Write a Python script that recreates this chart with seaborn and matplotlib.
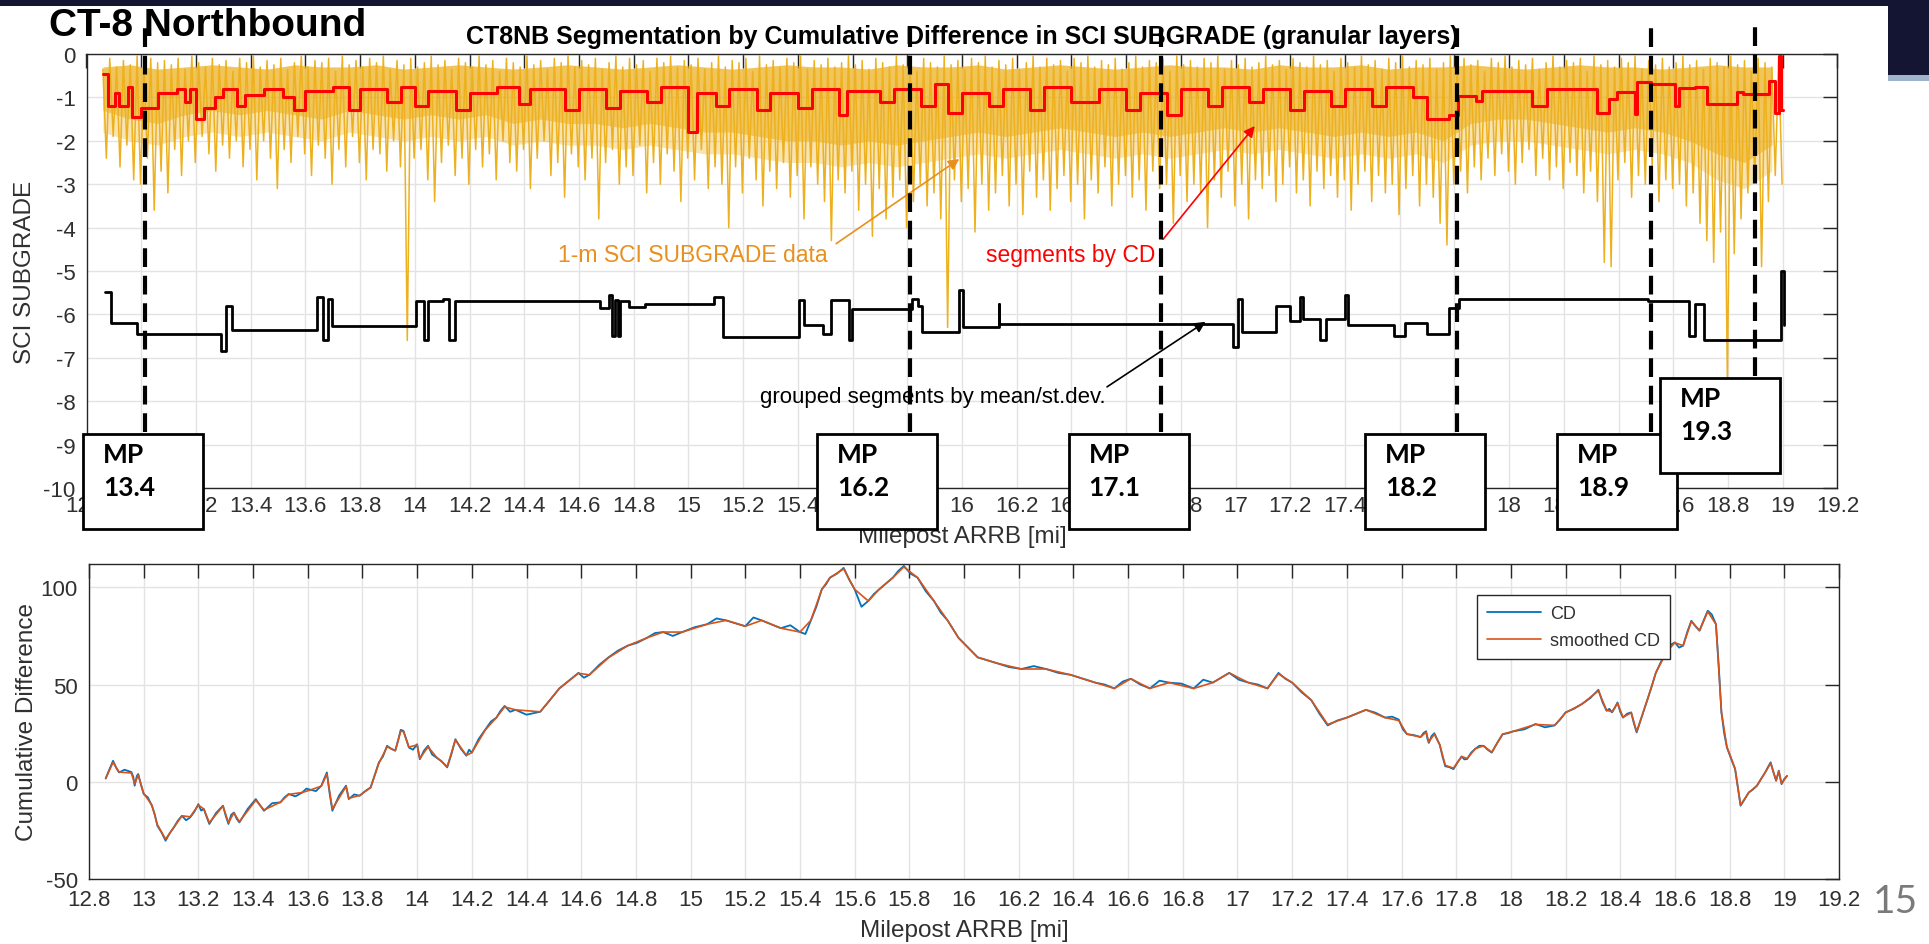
import numpy as np
import pandas as pd
import matplotlib
matplotlib.use("Agg")
import matplotlib.pyplot as plt
import matplotlib.transforms as mtransforms
from matplotlib.patches import Rectangle
import seaborn as sns

# ---------------- data ----------------
# 1-m SCI SUBGRADE data, read as alternating upper / lower spike values per 0.025 mi
sci_start = 12.86
sci_step = 0.025
sci_trough = [
    -2.4, -1.9, -2.6, -2.1, -2.9, -3.0, -2.4, -3.6, -2.7, -3.2,
    -2.2, -2.8, -2.0, -2.5, -1.9, -2.3, -2.7, -2.1, -2.4, -2.0,
    -2.6, -2.2, -2.9, -2.0, -2.4, -3.1, -2.2, -2.5, -1.9, -2.3,
    -2.8, -2.1, -2.4, -3.0, -2.2, -2.6, -1.9, -2.5, -2.9, -2.2,
    -2.3, -2.7, -2.0, -2.6, -6.6, -2.4, -2.2, -2.9, -3.4, -2.5,
    -2.1, -2.8, -2.4, -3.0, -2.2, -2.6, -2.3, -2.9, -2.0, -2.5,
    -2.7, -2.2, -3.1, -2.4, -2.0, -2.8, -2.5, -3.3, -2.3, -2.6,
    -2.9, -2.4, -3.8, -2.5, -2.2, -3.0, -2.6, -2.8, -2.1, -3.2,
    -2.5, -3.0, -2.3, -2.7, -3.4, -2.4, -2.9, -2.2, -3.1, -2.6,
    -3.0, -4.0, -2.6, -3.2, -2.4, -2.9, -3.5, -2.7, -3.1, -2.5,
    -3.3, -2.8, -3.8, -2.6, -3.0, -3.4, -4.3, -2.9, -3.2, -2.7,
    -3.6, -3.0, -4.2, -3.1, -3.8, -3.3, -2.9, -4.0, -3.4, -3.0,
    -3.5, -3.2, -3.8, -6.3, -2.9, -3.4, -3.1, -4.1, -3.0, -3.6,
    -3.2, -2.8, -3.5, -3.0, -3.7, -2.7, -3.3, -2.9, -3.6, -3.1,
    -2.8, -3.4, -3.0, -3.8, -2.9, -3.2, -2.6, -3.5, -3.0, -2.8,
    -3.3, -2.9, -3.6, -2.7, -3.1, -3.0, -3.9, -2.8, -3.4, -3.0,
    -3.2, -4.0, -2.9, -3.3, -2.7, -3.5, -3.0, -3.8, -2.9, -3.1,
    -2.8, -3.4, -3.0, -2.6, -3.2, -2.9, -3.5, -2.7, -3.1, -2.8,
    -3.3, -2.9, -3.6, -3.0, -2.7, -3.4, -2.8, -3.2, -3.0, -3.7,
    -3.1, -2.8, -3.5, -3.0, -3.3, -3.9, -4.4, -3.0, -2.7, -3.2,
    -2.6, -2.9, -2.4, -2.8, -2.3, -2.7, -3.0, -2.5, -2.2, -2.8,
    -2.4, -2.9, -2.6, -3.1, -2.5, -2.8, -3.2, -2.7, -3.4, -4.8,
    -4.9, -2.9, -2.5, -3.3, -2.8, -3.0, -2.6, -3.4, -2.9, -3.1,
    -3.0, -3.5, -3.2, -3.9, -4.3, -4.8, -4.1, -7.6, -4.6, -3.8,
    -3.2, -2.9, -4.9, -3.4, -2.8, -3.0,
]
sci_peak = [
    -0.35, -0.10, -0.30, -0.15, -0.25, -0.05, -0.30, -0.10, -0.20, -0.15,
    -0.25, -0.10, -0.35, -0.05, -0.20, -0.30, -0.10, -0.25, -0.15, -0.40,
    -0.10, -0.20, -0.05, -0.30, -0.15, -0.25, -0.10, -0.35, -0.20, -0.05,
    -0.30, -0.15, -0.20, -0.10, -0.40, -0.05, -0.25, -0.15, -0.30, -0.10,
    -0.20, -0.05, -0.35, -0.15, -0.25, -0.10, -0.30, -0.20, -0.05, -0.25,
    -0.15, -0.35, -0.10, -0.20, -0.30, -0.05, -0.25, -0.15, -0.40, -0.10,
    -0.20, -0.30, -0.05, -0.25, -0.15, -0.35, -0.10, -0.20, -0.05, -0.30,
    -0.15, -0.25, -0.10, -0.35, -0.20, -0.05, -0.30, -0.10, -0.25, -0.15,
    -0.40, -0.10, -0.20, -0.05, -0.30, -0.15, -0.25, -0.10, -0.35, -0.20,
    -0.05, -0.30, -0.15, -0.20, -0.10, -0.40, -0.05, -0.25, -0.15, -0.30,
    -0.10, -0.20, -0.05, -0.35, -0.15, -0.25, -0.10, -0.30, -0.20, -0.05,
    -0.25, -0.15, -0.35, -0.10, -0.20, -0.30, -0.05, -0.25, -0.15, -0.40,
    -0.10, -0.20, -0.30, -0.05, -0.25, -0.15, -0.35, -0.10, -0.20, -0.05,
    -0.30, -0.15, -0.25, -0.10, -0.35, -0.20, -0.05, -0.30, -0.10, -0.25,
    -0.15, -0.40, -0.10, -0.20, -0.05, -0.30, -0.15, -0.25, -0.10, -0.35,
    -0.20, -0.05, -0.30, -0.15, -0.20, -0.10, -0.40, -0.05, -0.25, -0.15,
    -0.30, -0.10, -0.20, -0.05, -0.35, -0.15, -0.25, -0.10, -0.30, -0.20,
    -0.05, -0.25, -0.15, -0.35, -0.10, -0.20, -0.30, -0.05, -0.25, -0.15,
    -0.40, -0.10, -0.20, -0.30, -0.05, -0.25, -0.15, -0.35, -0.10, -0.20,
    -0.05, -0.30, -0.15, -0.25, -0.10, -0.35, -0.20, -0.05, -0.30, -0.10,
    -0.25, -0.15, -0.40, -0.10, -0.20, -0.05, -0.30, -0.15, -0.25, -0.10,
    -0.35, -0.20, -0.05, -0.30, -0.15, -0.20, -0.10, -0.40, -0.05, -0.25,
    -0.15, -0.30, -0.10, -0.20, -0.05, -0.35, -0.15, -0.25, -0.10, -0.30,
    -0.20, -0.05, -0.25, -0.15, -0.35, -0.10, -0.20, -0.30, -0.05, -0.25,
    -0.15, -0.40, -0.10, -0.20, -0.30, -0.05,
]
# dense core of the 1-m data (every 0.1 mi): upper edge, solid-band lower edge, faint lower edge
sci_core_start = 12.86
sci_core_step = 0.1
sci_core_high = [
    -0.30, -0.25, -0.35, -0.30, -0.25, -0.30, -0.35, -0.25, -0.30, -0.30,
    -0.25, -0.35, -0.30, -0.25, -0.30, -0.35, -0.30, -0.25, -0.30, -0.35,
    -0.30, -0.25, -0.30, -0.35, -0.30, -0.25, -0.30, -0.30, -0.35, -0.25,
    -0.30, -0.30, -0.25, -0.35, -0.30, -0.25, -0.30, -0.35, -0.30, -0.25,
    -0.30, -0.30, -0.35, -0.25, -0.30, -0.30, -0.25, -0.35, -0.30, -0.30,
    -0.25, -0.30, -0.35, -0.30, -0.25, -0.30, -0.30, -0.35, -0.30, -0.25,
    -0.30, -0.30,
]
sci_core_mid = [
    -1.3, -1.5, -1.6, -1.4, -1.3, -1.4,
    -1.3, -1.4, -1.5, -1.3, -1.4, -1.5,
    -1.4, -1.5, -1.4, -1.6, -1.5, -1.6,
    -1.6, -1.7, -1.6, -1.7, -1.8,
    -1.8, -1.9, -2.0, -2.0, -2.1, -2.0, -2.1, -2.0, -1.9,
    -1.8, -1.9, -1.8, -1.7, -1.8, -1.9, -1.8, -1.9, -1.8, -1.7,
    -1.8, -1.7, -1.8, -1.9, -1.8, -1.9, -1.8, -2.0, -1.6, -1.5,
    -1.5, -1.6, -1.7, -1.8, -1.7, -1.8, -2.0, -2.3, -2.5, -2.1,
]
sci_core_low = [
    -1.8, -2.0, -2.1, -1.9, -1.8, -1.9,
    -1.8, -1.9, -2.0, -1.8, -1.9, -2.0,
    -1.9, -2.0, -1.9, -2.1, -2.0, -2.1,
    -2.1, -2.2, -2.1, -2.2, -2.3,
    -2.3, -2.4, -2.5, -2.5, -2.6, -2.5, -2.6, -2.5, -2.4,
    -2.3, -2.4, -2.3, -2.2, -2.3, -2.4, -2.3, -2.4, -2.3, -2.2,
    -2.3, -2.2, -2.3, -2.4, -2.3, -2.4, -2.3, -2.5, -2.1, -2.0,
    -2.0, -2.1, -2.2, -2.3, -2.2, -2.3, -2.5, -2.9, -3.1, -2.7,
]

# segments by CD (red step function): start milepost and value
seg_cd_mile = [12.86, 12.88, 12.905, 12.92, 12.95, 12.965, 13.0, 13.06, 13.13, 13.16,
               13.18, 13.20, 13.23, 13.27, 13.30, 13.35, 13.38, 13.45, 13.52, 13.56,
               13.60, 13.70, 13.76, 13.80, 13.90, 13.95, 14.00, 14.05, 14.15, 14.20,
               14.30, 14.38, 14.42, 14.55, 14.60, 14.70, 14.75, 14.85, 14.90, 15.00,
               15.03, 15.10, 15.15, 15.25, 15.30, 15.40, 15.45, 15.55, 15.58, 15.70,
               15.75, 15.85, 15.90, 15.95, 16.00, 16.10, 16.15, 16.25, 16.30, 16.40,
               16.50, 16.60, 16.65, 16.75, 16.80, 16.90, 16.95, 17.05, 17.10, 17.20,
               17.25, 17.35, 17.40, 17.50, 17.55, 17.65, 17.70, 17.78, 17.814, 17.88,
               17.902, 18.085, 18.137, 18.32, 18.364, 18.393, 18.459, 18.466, 18.518, 18.606,
               18.62, 18.679, 18.723, 18.832, 18.854, 18.95, 18.971, 18.986, 18.993, 19.0]
seg_cd_val = [-0.45, -1.2, -0.9, -1.2, -0.75, -1.45, -1.25, -0.9, -0.8, -1.1,
              -0.8, -1.5, -1.25, -1.0, -0.8, -1.2, -0.95, -0.8, -1.0, -1.3,
              -0.85, -0.75, -1.3, -0.8, -1.1, -0.75, -1.2, -0.85, -1.3, -0.9,
              -0.75, -1.15, -0.8, -1.3, -0.8, -1.25, -0.85, -1.1, -0.75, -1.8,
              -0.9, -1.2, -0.8, -1.3, -0.9, -1.25, -0.8, -1.4, -0.85, -1.1,
              -0.8, -1.2, -0.7, -1.35, -0.9, -1.2, -0.8, -1.3, -0.75, -1.1,
              -0.8, -1.3, -0.9, -1.4, -0.8, -1.2, -0.75, -1.1, -0.8, -1.3,
              -0.85, -1.2, -0.8, -1.2, -0.75, -1.0, -1.5, -1.4, -0.96, -1.08,
              -0.85, -1.19, -0.8, -1.35, -1.04, -0.88, -1.38, -0.65, -0.7, -1.19,
              -0.79, -0.76, -1.15, -0.88, -0.92, -0.62, -1.35, -0.04, -1.3, -1.3]

# grouped segments by mean/st.dev. (black step function)
grp_mile = [12.866, 12.889, 12.983, 13.293, 13.31, 13.33, 13.644, 13.666, 13.682, 13.698,
            14.004, 14.035, 14.049, 14.103, 14.125, 14.148, 14.677, 14.709, 14.72, 14.73,
            14.742, 14.75, 14.783, 14.84, 15.093, 15.126, 15.403, 15.424, 15.493, 15.522,
            15.587, 15.599, 15.819, 15.838, 15.852, 15.99, 16.002, 16.134, 16.137, 16.99,
            17.01, 17.023, 17.149, 17.2, 17.235, 17.245, 17.31, 17.33, 17.40, 17.41,
            17.58, 17.62, 17.70, 17.78, 17.816, 18.509, 18.657, 18.68, 18.711, 18.994,
            19.003]
grp_val = [-5.49, -6.2, -6.45, -6.85, -5.8, -6.35, -5.6, -6.6, -5.65, -6.27,
           -5.7, -6.6, -5.7, -5.65, -6.6, -5.7, -5.85, -5.56, -6.5, -5.66,
           -6.5, -5.7, -5.83, -5.77, -5.6, -6.52, -5.66, -6.25, -6.45, -5.66,
           -6.6, -5.87, -5.64, -5.8, -6.4, -5.43, -6.29, -5.75, -6.22, -6.75,
           -5.64, -6.4, -5.8, -6.15, -5.6, -6.1, -6.6, -6.1, -5.55, -6.25,
           -6.5, -6.2, -6.45, -5.85, -5.64, -5.7, -6.5, -5.75, -6.6, -5.0,
           -6.25]

# Cumulative difference (bottom panel): raw CD (dense) and smoothed CD
cd_mile = [12.861, 12.875, 12.888, 12.90, 12.91, 12.93, 12.955, 12.962, 12.967, 12.975,
           12.98, 12.99, 13.0, 13.015, 13.03, 13.04, 13.05, 13.065, 13.08, 13.095,
           13.11, 13.125, 13.14, 13.155, 13.17, 13.185, 13.2, 13.21, 13.22, 13.23,
           13.24, 13.265, 13.29, 13.30, 13.31, 13.32, 13.33, 13.34, 13.35, 13.38,
           13.41, 13.425, 13.44, 13.47, 13.5, 13.515, 13.53, 13.555, 13.58, 13.595,
           13.61, 13.63, 13.65, 13.66, 13.67, 13.68, 13.69, 13.715, 13.74, 13.745,
           13.75, 13.77, 13.79, 13.81, 13.83, 13.845, 13.86, 13.875, 13.89, 13.905,
           13.92, 13.93, 13.94, 13.95, 13.96, 13.97, 13.985, 14.0, 14.005, 14.01,
           14.025, 14.04, 14.055, 14.07, 14.09, 14.11, 14.125, 14.14, 14.16, 14.18,
           14.19, 14.2, 14.225, 14.25, 14.27, 14.29, 14.305, 14.32, 14.34, 14.36,
           14.40, 14.45, 14.48, 14.52, 14.555, 14.59, 14.61, 14.63, 14.665, 14.70,
           14.735, 14.77, 14.805, 14.84, 14.87, 14.90, 14.935, 14.97, 15.015, 15.06,
           15.095, 15.13, 15.165, 15.20, 15.23, 15.26, 15.295, 15.33, 15.365, 15.40,
           15.42, 15.44, 15.46, 15.48, 15.495, 15.51, 15.535, 15.56, 15.58, 15.60,
           15.625, 15.65, 15.67, 15.69, 15.715, 15.74, 15.76, 15.78, 15.805, 15.83,
           15.86, 15.89, 15.915, 15.94, 15.96, 15.98, 16.015, 16.05, 16.085, 16.12,
           16.165, 16.21, 16.255, 16.30, 16.345, 16.39, 16.435, 16.48, 16.515, 16.55,
           16.58, 16.61, 16.645, 16.68, 16.715, 16.75, 16.795, 16.84, 16.875, 16.91,
           16.94, 16.97, 17.005, 17.04, 17.075, 17.11, 17.13, 17.15, 17.175, 17.20,
           17.235, 17.27, 17.30, 17.33, 17.365, 17.40, 17.435, 17.47, 17.505, 17.54,
           17.565, 17.59, 17.605, 17.62, 17.645, 17.67, 17.68, 17.69, 17.695, 17.70,
           17.71, 17.72, 17.73, 17.74, 17.75, 17.76, 17.775, 17.79, 17.805, 17.82,
           17.83, 17.84, 17.855, 17.87, 17.885, 17.90, 17.915, 17.93, 17.95, 17.97,
           17.99, 18.01, 18.05, 18.09, 18.125, 18.16, 18.18, 18.20, 18.23, 18.26,
           18.29, 18.32, 18.335, 18.35, 18.36, 18.37, 18.38, 18.39, 18.40, 18.41,
           18.425, 18.44, 18.45, 18.46, 18.48, 18.50, 18.515, 18.53, 18.55, 18.57,
           18.585, 18.60, 18.615, 18.63, 18.645, 18.66, 18.675, 18.69, 18.705, 18.72,
           18.735, 18.75, 18.76, 18.77, 18.78, 18.79, 18.805, 18.82, 18.83, 18.84,
           18.855, 18.87, 18.885, 18.90, 18.915, 18.93, 18.94, 18.95, 18.96, 18.97,
           18.975, 18.98, 18.985, 18.99, 19.0, 19.01]
cd_val = [1.7, 6.5, 10.8, 7.0, 4.8, 6.2, 5.0, 2.5, -2.0, 3.0,
          4.0, -1.5, -6.3, -8.0, -12.3, -16.5, -22.6, -26.0, -30.3, -26.5,
          -23.5, -20.0, -17.5, -19.8, -18.3, -15.5, -11.5, -14.8, -14.0, -18.0,
          -21.7, -16.0, -12.3, -17.5, -21.7, -17.0, -15.8, -19.0, -20.9, -14.0,
          -8.9, -12.0, -14.9, -11.0, -10.6, -8.0, -6.3, -7.5, -5.5, -3.5,
          -4.1, -4.8, -2.0, 1.5, 4.8, -6.0, -14.9, -7.0, -2.0, -5.5,
          -8.9, -6.5, -7.2, -4.8, -2.9, 3.5, 9.9, 13.0, 18.5, 17.0,
          16.0, 21.0, 26.7, 26.2, 22.0, 17.6, 16.5, 19.3, 15.0, 11.6,
          16.0, 18.5, 14.0, 12.5, 10.5, 7.4, 14.0, 21.9, 17.0, 13.4,
          16.5, 15.0, 22.0, 27.0, 31.0, 33.0, 36.5, 39.0, 36.0, 37.0,
          34.5, 36.0, 41.0, 48.0, 52.0, 56.0, 53.5, 55.0, 60.0, 64.0,
          67.5, 70.0, 71.5, 74.0, 76.5, 77.0, 75.0, 77.0, 79.5, 81.0,
          84.0, 83.0, 81.5, 80.0, 84.5, 83.0, 81.0, 79.0, 80.5, 77.0,
          76.0, 83.0, 90.0, 99.0, 101.5, 105.0, 107.0, 110.0, 104.0, 99.0,
          90.0, 93.0, 96.5, 99.0, 102.0, 105.0, 108.5, 111.0, 107.0, 105.0,
          98.0, 93.0, 87.0, 83.0, 78.5, 74.0, 69.0, 64.0, 62.5, 61.0,
          59.0, 58.0, 59.5, 58.0, 56.0, 55.0, 53.0, 51.0, 50.0, 48.0,
          51.5, 53.0, 50.0, 48.0, 52.0, 51.0, 50.5, 48.0, 52.5, 51.0,
          53.5, 56.0, 52.5, 51.0, 50.0, 48.0, 52.0, 56.0, 53.0, 51.0,
          46.0, 42.0, 35.0, 29.0, 31.5, 33.0, 35.0, 37.0, 35.5, 33.0,
          33.5, 32.0, 27.0, 24.5, 24.0, 23.0, 25.0, 26.0, 22.0, 20.0,
          23.5, 25.0, 22.0, 19.0, 13.0, 8.0, 7.5, 6.5, 10.0, 13.0,
          11.5, 11.7, 15.0, 17.0, 18.5, 18.5, 16.5, 15.0, 20.0, 24.5,
          25.0, 26.0, 27.0, 29.7, 28.0, 29.0, 32.0, 35.7, 37.5, 40.0,
          43.0, 47.3, 41.0, 36.5, 37.5, 35.7, 38.0, 40.8, 36.0, 33.0,
          35.0, 35.7, 30.0, 25.4, 34.0, 42.5, 49.0, 56.0, 62.0, 67.4,
          70.5, 71.7, 69.0, 70.0, 77.0, 82.8, 80.0, 77.7, 83.0, 88.0,
          86.0, 81.0, 60.0, 35.7, 25.0, 17.7, 12.0, 6.5, -3.0, -12.3,
          -9.0, -5.5, -4.0, -2.0, 1.5, 4.8, 7.5, 10.0, 5.0, 0.5,
          3.0, 5.7, 2.0, -1.2, 1.5, 3.0]
smooth_mile = [12.861, 12.888, 12.91, 12.955, 12.967, 12.98, 13.0, 13.03, 13.05, 13.08,
               13.11, 13.14, 13.17, 13.2, 13.22, 13.24, 13.29, 13.31, 13.33, 13.35,
               13.41, 13.44, 13.5, 13.53, 13.58, 13.61, 13.65, 13.67, 13.69, 13.74,
               13.75, 13.79, 13.83, 13.86, 13.89, 13.92, 13.94, 13.95, 13.97, 14.0,
               14.01, 14.04, 14.07, 14.11, 14.14, 14.18, 14.2, 14.25, 14.29, 14.32,
               14.36, 14.45, 14.52, 14.59, 14.63, 14.70, 14.77, 14.84, 14.90, 14.97,
               15.06, 15.13, 15.20, 15.26, 15.33, 15.40, 15.44, 15.48, 15.51, 15.56,
               15.60, 15.65, 15.69, 15.74, 15.78, 15.83, 15.89, 15.94, 15.98, 16.05,
               16.12, 16.21, 16.30, 16.39, 16.48, 16.55, 16.61, 16.68, 16.75, 16.84,
               16.91, 16.97, 17.04, 17.11, 17.15, 17.20, 17.27, 17.33, 17.40, 17.47,
               17.54, 17.59, 17.62, 17.67, 17.69, 17.70, 17.72, 17.74, 17.76, 17.79,
               17.82, 17.84, 17.87, 17.90, 17.93, 17.97, 18.01, 18.09, 18.16, 18.20,
               18.26, 18.32, 18.35, 18.37, 18.39, 18.41, 18.44, 18.46, 18.50, 18.53,
               18.57, 18.60, 18.63, 18.66, 18.69, 18.72, 18.75, 18.77, 18.79, 18.82,
               18.84, 18.87, 18.90, 18.93, 18.95, 18.97, 18.98, 18.99, 19.01]
smooth_val = [1.7, 10.0, 5.0, 4.5, -1.0, 3.5, -6.0, -12.0, -22.0, -29.5,
              -23.5, -17.5, -18.0, -12.0, -14.0, -21.0, -12.5, -21.0, -16.0, -20.5,
              -9.5, -14.5, -10.5, -6.5, -5.5, -4.2, -2.2, 4.0, -14.0, -2.5,
              -8.5, -7.0, -3.0, 9.5, 18.0, 16.0, 26.0, 25.8, 17.8, 19.0,
              12.0, 18.0, 12.8, 7.8, 21.5, 13.6, 15.0, 26.8, 33.0, 38.5,
              37.0, 36.0, 48.0, 55.8, 55.0, 63.8, 70.0, 74.0, 77.0, 77.0,
              81.0, 83.0, 80.0, 83.0, 79.0, 77.0, 83.0, 99.0, 105.0, 109.5,
              99.0, 93.0, 99.0, 105.0, 110.5, 105.0, 93.0, 83.0, 74.0, 64.0,
              61.0, 58.0, 58.0, 55.0, 51.0, 48.0, 53.0, 48.0, 51.0, 48.0,
              51.0, 56.0, 51.0, 48.0, 55.5, 51.0, 42.0, 29.5, 33.0, 37.0,
              33.0, 31.5, 24.5, 23.0, 25.5, 20.5, 24.5, 19.0, 8.5, 7.0,
              13.0, 12.0, 17.0, 18.5, 15.2, 24.5, 26.0, 29.5, 29.0, 35.5,
              40.0, 46.8, 36.8, 36.0, 40.5, 33.2, 35.5, 25.8, 42.5, 56.0,
              67.0, 71.5, 70.0, 82.5, 77.8, 87.5, 81.0, 36.0, 18.0, 6.8,
              -12.0, -5.5, -2.0, 4.8, 9.5, 0.8, 5.5, -1.0, 3.0]

# milepost markers
mp_labels = ["13.4", "16.2", "17.1", "18.2", "18.9", "19.3"]
mp_arrb = [13.014, 15.81, 16.727, 17.81, 18.52, 18.90]

x_ticks = [12.8, 13.0, 13.2, 13.4, 13.6, 13.8, 14.0, 14.2, 14.4, 14.6, 14.8,
           15.0, 15.2, 15.4, 15.6, 15.8, 16.0, 16.2, 16.4, 16.6, 16.8,
           17.0, 17.2, 17.4, 17.6, 17.8, 18.0, 18.2, 18.4, 18.6, 18.8, 19.0, 19.2]
y_ticks_top = [0, -1, -2, -3, -4, -5, -6, -7, -8, -9, -10]
y_ticks_bot = [-50, 0, 50, 100]

# ---------------- build frames ----------------
n = len(sci_trough)
sci_x, sci_y = [], []
for i in range(n):
    x0 = sci_start + sci_step * i
    sci_x += [x0, x0 + sci_step / 2]
    sci_y += [sci_peak[i], sci_trough[i]]
df_sci = pd.DataFrame({"mile": sci_x, "sci": sci_y})
core_x = [sci_core_start + sci_core_step * i for i in range(len(sci_core_low))]
df_seg = pd.DataFrame({"mile": seg_cd_mile, "val": seg_cd_val})
df_grp = pd.DataFrame({"mile": grp_mile, "val": grp_val})
df_cd = pd.DataFrame({"mile": cd_mile, "CD": cd_val})
df_sm = pd.DataFrame({"mile": smooth_mile, "smoothed CD": smooth_val})

# ---------------- layout constants (annotation boxes) ----------------
box_left = [12.787, 15.47, 16.39, 17.473, 18.175, 18.551]
box_top = [0.124, 0.124, 0.124, 0.124, 0.124, 0.253]
box_w = 0.4386
box_h = 0.219

# ---------------- style ----------------
sns.set_theme(style="white")
plt.rcParams['font.family'] = ['Liberation Sans', 'DejaVu Sans']
plt.rcParams['axes.unicode_minus'] = False
TXT = '#303030'

W, H = 1929, 945
fig = plt.figure(figsize=(W / 100, H / 100), dpi=100)
fig.patch.set_facecolor('white')

ax1 = fig.add_axes([86.5 / W, 1 - 489 / H, 1751 / W, 434 / H])
ax2 = fig.add_axes([89 / W, 1 - 880 / H, 1750 / W, 315 / H])

def style_axes(ax, xpad, labels):
    for s in ax.spines.values():
        s.set_visible(True)
        s.set_color('#262626')
        s.set_linewidth(1.0)
    ax.tick_params(direction='in', top=True, right=True, length=10, width=1,
                   color='#262626', labelsize=16, labelcolor=TXT)
    ax.tick_params(axis='x', pad=xpad)
    ax.tick_params(axis='y', pad=8)
    ax.grid(True, color='#E3E3E3', linewidth=1.0)
    ax.set_axisbelow(True)
    ax.set_xlim(12.8, 19.2)
    ax.set_xticks(x_ticks)
    ax.set_xticklabels(labels)

# tick labels fully hidden behind the milepost boxes are left blank
top_labels = []
for t in x_ticks:
    hidden = any((bl + 0.07 < t < bl + box_w - 0.07) and (bt - box_h < -0.06)
                 for bl, bt in zip(box_left, box_top))
    top_labels.append("" if hidden else f"{t:g}")
bot_labels = [f"{t:g}" for t in x_ticks]

# ---- top panel ----
ax1.fill_between(core_x, sci_core_high, sci_core_low, color='#EDB120', alpha=0.35,
                 lw=0, zorder=1.4)
ax1.fill_between(core_x, sci_core_high, sci_core_mid, color='#EDB120', alpha=0.6,
                 lw=0, zorder=1.5)
sns.lineplot(data=df_sci, x="mile", y="sci", ax=ax1, color='#EDB120', lw=1.1,
             estimator=None, sort=False, zorder=2)
sns.lineplot(data=df_seg, x="mile", y="val", ax=ax1, color='#FF0000', lw=2.2,
             estimator=None, sort=False, drawstyle='steps-post', zorder=3)
sns.lineplot(data=df_grp, x="mile", y="val", ax=ax1, color='black', lw=2.0,
             estimator=None, sort=False, drawstyle='steps-post', zorder=3)
style_axes(ax1, 5, top_labels)
ax1.set_ylim(-10, 0)
ax1.set_yticks(y_ticks_top)
ax1.set_xlabel("Milepost ARRB [mi]", fontsize=17.5, color=TXT)
ax1.set_ylabel("SCI SUBGRADE", fontsize=17.5, color=TXT)
ax1.xaxis.label.set_va('center')
ax1.yaxis.label.set_va('center')
ax1.xaxis.set_label_coords(0.5, (489 - 537) / 434)
ax1.yaxis.set_label_coords((25 - 86.5) / 1751, 0.5)
ax1.set_title("CT8NB Segmentation by Cumulative Difference in SCI SUBGRADE (granular layers)",
              fontsize=18, fontweight='bold', color='black', pad=8)

# annotations
ax1.text(15.017, -4.62, "1-m SCI SUBGRADE data", color='#E8901E', fontsize=16.5,
         ha='center', va='center', zorder=7)
ax1.annotate("", xy=(15.99, -2.42), xytext=(15.54, -4.37),
             arrowprops=dict(arrowstyle='-|>', color='#E8901E', lw=1.2,
                             mutation_scale=16, shrinkA=0, shrinkB=0), zorder=7)
ax1.text(16.398, -4.62, "segments by CD", color='#FF0000', fontsize=16.5,
         ha='center', va='center', zorder=7)
ax1.annotate("", xy=(17.07, -1.66), xytext=(16.735, -4.27),
             arrowprops=dict(arrowstyle='-|>', color='#FF0000', lw=1.2,
                             mutation_scale=16, shrinkA=0, shrinkB=0), zorder=7)
ax1.text(15.894, -7.9, "grouped segments by mean/st.dev.", color='black', fontsize=16,
         ha='center', va='center', zorder=7)
ax1.annotate("", xy=(16.89, -6.17), xytext=(16.53, -7.67),
             arrowprops=dict(arrowstyle='-|>', color='black', lw=1.2,
                             mutation_scale=16, shrinkA=0, shrinkB=0), zorder=7)

# milepost dashed lines and boxes
trans = mtransforms.blended_transform_factory(ax1.transData, ax1.transAxes)
for m, lab, bl, bt in zip(mp_arrb, mp_labels, box_left, box_top):
    ax1.plot([m, m], [bt + 0.005, 1.076], transform=trans, clip_on=False,
             color='black', lw=3.0, dashes=(4.5, 2.1), zorder=8)
    ax1.add_patch(Rectangle((bl, bt - box_h), box_w, box_h, transform=trans,
                            clip_on=False, facecolor='white', edgecolor='black',
                            lw=2.0, zorder=9))
    ax1.text(bl + 0.073, bt - 0.018, f"MP\n{lab}", transform=trans, ha='left', va='top',
             fontsize=19, fontweight='bold', family=['Lato', 'DejaVu Sans'],
             linespacing=1.45, color='black', zorder=10, clip_on=False)

# ---- bottom panel ----
sns.lineplot(data=df_cd, x="mile", y="CD", ax=ax2, color='#0072BD', lw=1.3,
             estimator=None, sort=False, label="CD")
sns.lineplot(data=df_sm, x="mile", y="smoothed CD", ax=ax2, color='#D95319', lw=1.2,
             estimator=None, sort=False, label="smoothed CD")
style_axes(ax2, 7, bot_labels)
ax2.set_ylim(-50, 112)
ax2.set_yticks(y_ticks_bot)
ax2.set_xlabel("Milepost ARRB [mi]", fontsize=17.5, color=TXT)
ax2.set_ylabel("Cumulative Difference", fontsize=17.5, color=TXT)
ax2.xaxis.label.set_va('center')
ax2.yaxis.label.set_va('center')
ax2.xaxis.set_label_coords(0.5, (880 - 931) / 315)
ax2.yaxis.set_label_coords((27 - 89) / 1750, 0.5)
leg = ax2.legend(loc='upper left', bbox_to_anchor=(0.788, 0.93), fontsize=13,
                 frameon=True, fancybox=False, edgecolor='#262626', framealpha=1,
                 handlelength=3.0, borderpad=0.55, labelspacing=0.55, handletextpad=0.5)
leg.get_frame().set_linewidth(1.0)
for t in leg.get_texts():
    t.set_color(TXT)

# ---- slide decorations ----
fig.patches.append(Rectangle((0, 1 - 7 / H), 1, 7 / H, transform=fig.transFigure,
                             facecolor='#141433', edgecolor='none', zorder=0))
fig.patches.append(Rectangle((1888 / W, 1 - 76 / H), 41 / W, 76 / H, transform=fig.transFigure,
                             facecolor='#141433', edgecolor='none', zorder=0))
fig.patches.append(Rectangle((1888 / W, 1 - 82 / H), 41 / W, 6 / H, transform=fig.transFigure,
                             facecolor='#9FB3CC', edgecolor='none', zorder=0))
fig.text(49 / W, 1 - 26 / H, "CT-8 Northbound", fontsize=28, fontweight='bold',
         ha='left', va='center', color='black')
fig.text(1895 / W, 1 - 902 / H, "15", fontsize=28,
         family=['Lato', 'DejaVu Sans'], ha='center', va='center', color='#7A7A7A')

fig.savefig("out.png", dpi=100)
